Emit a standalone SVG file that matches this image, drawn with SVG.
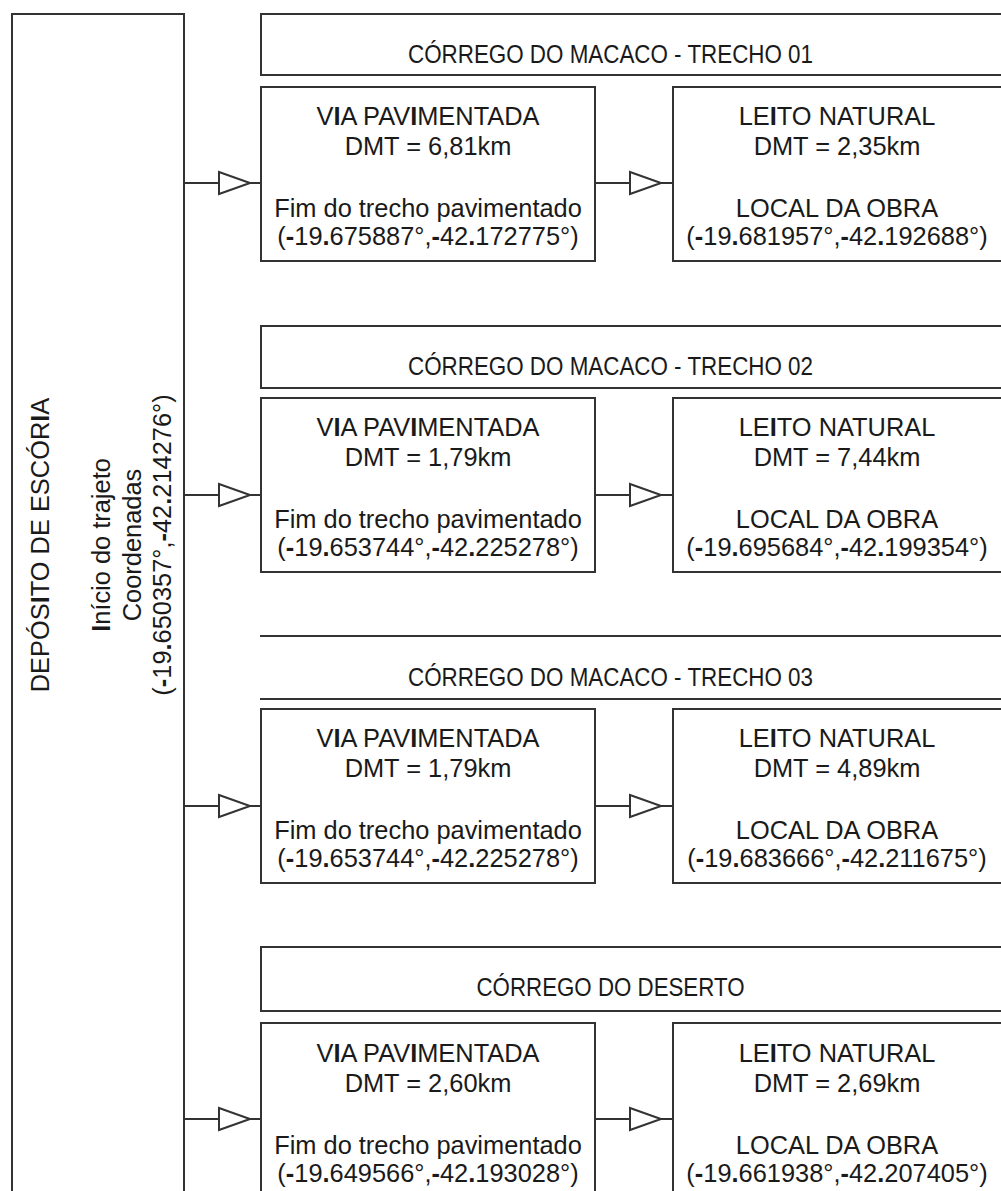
<svg xmlns="http://www.w3.org/2000/svg" width="1001" height="1191" viewBox="0 0 1001 1191">
<style>
.box{fill:#fff;stroke:#333;stroke-width:2}
.ln{fill:none;stroke:#333;stroke-width:2}
.tri{fill:#fff;stroke:#333;stroke-width:2;stroke-linejoin:miter}
.t{font-family:"Liberation Sans",Arial,sans-serif;font-size:25.4px;fill:#1a1a1a;text-anchor:middle}
.h{font-family:"Liberation Sans",Arial,sans-serif;font-size:25px;fill:#1a1a1a;text-anchor:middle}
.b{font-weight:bold}
</style>
<rect width="1001" height="1191" fill="#fff"/>

<g id="deposito">
<path class="ln" d="M12,1195 V14 H184 V1195"/>
<text class="t" transform="translate(49,545) rotate(-90)">DEPÓS<tspan class="b">I</tspan>TO DE ESCÓR<tspan class="b">I</tspan>A</text>
<text class="t" transform="translate(110,545) rotate(-90)"><tspan class="b">I</tspan>nício do trajeto</text>
<text class="t" transform="translate(141,545) rotate(-90)">Coordenadas</text>
<text class="t" transform="translate(171,545) rotate(-90)">(<tspan class="b">-</tspan>19<tspan class="b">.</tspan>650357°,<tspan class="b">-</tspan>42<tspan class="b">.</tspan>214276°)</text>
</g>

<!-- Section 1 -->
<g id="header1">
<rect class="box" x="261" y="14" width="745" height="61"/>
<text class="h" x="610.5" y="63" textLength="405" lengthAdjust="spacingAndGlyphs">CÓRREGO DO MACACO - TRECHO 01</text>
</g>
<g id="via1">
<rect class="box" x="261" y="87" width="334" height="174"/>
<text class="t" x="428" y="125">V<tspan class="b">I</tspan>A PAV<tspan class="b">I</tspan>MENTADA</text>
<text class="t" x="428" y="155">DMT = 6,81km</text>
<text class="t" x="428" y="217">Fim do trecho pavimentado</text>
<text class="t" x="428" y="245">(<tspan class="b">-</tspan>19<tspan class="b">.</tspan>675887°,<tspan class="b">-</tspan>42<tspan class="b">.</tspan>172775°)</text>
</g>
<g id="leito1">
<rect class="box" x="673" y="87" width="332" height="174"/>
<text class="t" x="837" y="125">LE<tspan class="b">I</tspan>TO NATURAL</text>
<text class="t" x="837" y="155">DMT = 2,35km</text>
<text class="t" x="837" y="217">LOCAL DA OBRA</text>
<text class="t" x="837" y="245">(<tspan class="b">-</tspan>19<tspan class="b">.</tspan>681957°,<tspan class="b">-</tspan>42<tspan class="b">.</tspan>192688°)</text>
</g>

<!-- Section 2 -->
<g id="header2">
<rect class="box" x="261" y="326" width="745" height="62"/>
<text class="h" x="610.5" y="375" textLength="405" lengthAdjust="spacingAndGlyphs">CÓRREGO DO MACACO - TRECHO 02</text>
</g>
<g id="via2">
<rect class="box" x="261" y="398" width="334" height="174"/>
<text class="t" x="428" y="436">V<tspan class="b">I</tspan>A PAV<tspan class="b">I</tspan>MENTADA</text>
<text class="t" x="428" y="466">DMT = 1,79km</text>
<text class="t" x="428" y="528">Fim do trecho pavimentado</text>
<text class="t" x="428" y="556">(<tspan class="b">-</tspan>19<tspan class="b">.</tspan>653744°,<tspan class="b">-</tspan>42<tspan class="b">.</tspan>225278°)</text>
</g>
<g id="leito2">
<rect class="box" x="673" y="398" width="332" height="174"/>
<text class="t" x="837" y="436">LE<tspan class="b">I</tspan>TO NATURAL</text>
<text class="t" x="837" y="466">DMT = 7,44km</text>
<text class="t" x="837" y="528">LOCAL DA OBRA</text>
<text class="t" x="837" y="556">(<tspan class="b">-</tspan>19<tspan class="b">.</tspan>695684°,<tspan class="b">-</tspan>42<tspan class="b">.</tspan>199354°)</text>
</g>

<!-- Section 3 -->
<g id="header3">
<path class="ln" d="M260,636 H1005 M260,699 H1005"/>
<text class="h" x="610.5" y="686" textLength="405" lengthAdjust="spacingAndGlyphs">CÓRREGO DO MACACO - TRECHO 03</text>
</g>
<g id="via3">
<rect class="box" x="261" y="709" width="334" height="174"/>
<text class="t" x="428" y="747">V<tspan class="b">I</tspan>A PAV<tspan class="b">I</tspan>MENTADA</text>
<text class="t" x="428" y="777">DMT = 1,79km</text>
<text class="t" x="428" y="839">Fim do trecho pavimentado</text>
<text class="t" x="428" y="867">(<tspan class="b">-</tspan>19<tspan class="b">.</tspan>653744°,<tspan class="b">-</tspan>42<tspan class="b">.</tspan>225278°)</text>
</g>
<g id="leito3">
<rect class="box" x="673" y="709" width="332" height="174"/>
<text class="t" x="837" y="747">LE<tspan class="b">I</tspan>TO NATURAL</text>
<text class="t" x="837" y="777">DMT = 4,89km</text>
<text class="t" x="837" y="839">LOCAL DA OBRA</text>
<text class="t" x="837" y="867">(<tspan class="b">-</tspan>19<tspan class="b">.</tspan>683666°,<tspan class="b">-</tspan>42<tspan class="b">.</tspan>211675°)</text>
</g>

<!-- Section 4 -->
<g id="header4">
<rect class="box" x="261" y="947" width="745" height="64"/>
<text class="h" x="610.5" y="996" textLength="268" lengthAdjust="spacingAndGlyphs">CÓRREGO DO DESERTO</text>
</g>
<g id="via4">
<rect class="box" x="261" y="1023" width="334" height="200"/>
<text class="t" x="428" y="1062">V<tspan class="b">I</tspan>A PAV<tspan class="b">I</tspan>MENTADA</text>
<text class="t" x="428" y="1092">DMT = 2,60km</text>
<text class="t" x="428" y="1154">Fim do trecho pavimentado</text>
<text class="t" x="428" y="1182">(<tspan class="b">-</tspan>19<tspan class="b">.</tspan>649566°,<tspan class="b">-</tspan>42<tspan class="b">.</tspan>193028°)</text>
</g>
<g id="leito4">
<rect class="box" x="673" y="1023" width="332" height="200"/>
<text class="t" x="837" y="1062">LE<tspan class="b">I</tspan>TO NATURAL</text>
<text class="t" x="837" y="1092">DMT = 2,69km</text>
<text class="t" x="837" y="1154">LOCAL DA OBRA</text>
<text class="t" x="837" y="1182">(<tspan class="b">-</tspan>19<tspan class="b">.</tspan>661938°,<tspan class="b">-</tspan>42<tspan class="b">.</tspan>207405°)</text>
</g>

<g id="connectors">
<path class="ln" d="M184,183 H219 M250,183 H261 M595,183 H630 M661,183 H673"/>
<polygon class="tri" points="219,172 250,183 219,194"/>
<polygon class="tri" points="630,172 661,183 630,194"/>
<path class="ln" d="M184,495 H219 M250,495 H261 M595,495 H630 M661,495 H673"/>
<polygon class="tri" points="219,484 250,495 219,506"/>
<polygon class="tri" points="630,484 661,495 630,506"/>
<path class="ln" d="M184,806 H219 M250,806 H261 M595,806 H630 M661,806 H673"/>
<polygon class="tri" points="219,795 250,806 219,817"/>
<polygon class="tri" points="630,795 661,806 630,817"/>
<path class="ln" d="M184,1119 H219 M250,1119 H261 M595,1119 H630 M661,1119 H673"/>
<polygon class="tri" points="219,1108 250,1119 219,1130"/>
<polygon class="tri" points="630,1108 661,1119 630,1130"/>
</g>
</svg>
